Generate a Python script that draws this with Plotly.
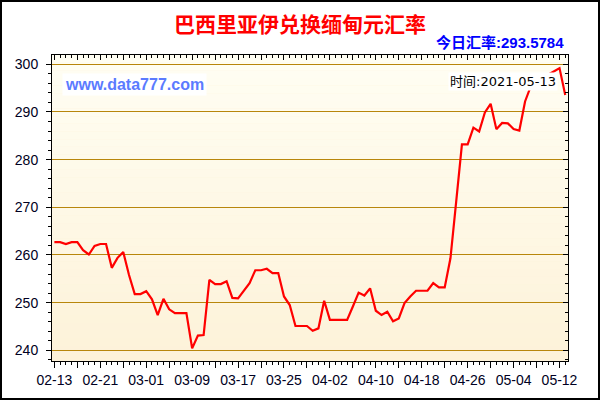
import plotly.graph_objects as go
import pandas as pd

# ---------------- data ----------------
DATES = pd.date_range("2021-02-13", "2021-05-13", freq="D").strftime("%Y-%m-%d").tolist()
RATES = [
    262.7, 262.7, 262.3, 262.7, 262.7, 261.0, 260.1, 261.9, 262.3, 262.3,
    257.3, 259.4, 260.6, 255.8, 251.8, 251.8, 252.4, 250.7, 247.4, 250.8,
    248.6, 247.8, 247.8, 247.8, 240.4, 243.1, 243.2, 254.8, 253.9, 253.9,
    254.5, 251.0, 250.9, 252.5, 254.1, 256.8, 256.8, 257.1, 256.2, 256.2,
    251.3, 249.5, 245.1, 245.1, 245.1, 244.1, 244.6, 250.4, 246.4, 246.4,
    246.4, 246.4, 249.2, 252.1, 251.5, 253.0, 248.3, 247.4, 248.1, 246.1,
    246.7, 249.9, 251.3, 252.5, 252.5, 252.5, 254.1, 253.2, 253.2, 259.3,
    271.2, 283.2, 283.2, 286.7, 285.9, 289.9, 291.7, 286.4, 287.7, 287.6,
    286.4, 286.1, 292.2, 295.4, 296.9, 297.3, 297.8, 298.5, 299.2, 293.5784,
]
TICK_VALS = [
    "2021-02-13", "2021-02-17", "2021-02-21", "2021-02-25", "2021-03-01", "2021-03-05",
    "2021-03-09", "2021-03-13", "2021-03-17", "2021-03-21", "2021-03-25", "2021-03-29",
    "2021-04-02", "2021-04-06", "2021-04-10", "2021-04-14", "2021-04-18", "2021-04-22",
    "2021-04-26", "2021-04-30", "2021-05-04", "2021-05-08", "2021-05-12",
]
TICK_TEXT = [
    "02-13", "", "02-21", "", "03-01", "", "03-09", "", "03-17", "", "03-25", "",
    "04-02", "", "04-10", "", "04-18", "", "04-26", "", "05-04", "", "05-12",
]
Y_TICKS = [240, 250, 260, 270, 280, 290, 300]

TITLE = "巴西里亚伊兑换缅甸元汇率"
TODAY_TEXT = "今日汇率:293.5784"
SITE_TEXT = "www.data777.com"
TIME_TEXT = "时间:2021-05-13"

# ---------------- layout helpers ----------------
W, H = 600, 400
L, R, T, B = 52, 32, 55, 39
PW, PH = W - L - R, H - T - B


def px(x):
    return (x - L) / PW


def py(y):
    return (H - B - y) / PH


X_RANGE = ["2021-02-12 14:00", "2021-05-13 11:30"]
Y_RANGE = [237.76, 301.95]
TICK_FONT = dict(family="Liberation Sans, Arial, sans-serif", size=14, color="#000022")

fig = go.Figure()
fig.add_trace(go.Scatter(
    x=DATES, y=RATES, mode="lines",
    line=dict(color="#FF0000", width=2.2),
    hoverinfo="skip", showlegend=False,
))
# invisible trace on the mirror axes so they get drawn
fig.add_trace(go.Scatter(
    x=DATES, y=RATES, xaxis="x2", yaxis="y2", mode="lines",
    line=dict(color="rgba(0,0,0,0)", width=0),
    hoverinfo="skip", showlegend=False,
))

# vertical gradient background of the plot area
shapes = []
N = 40
top = (255, 254, 243)
bot = (253, 242, 217)
for i in range(N):
    t = i / (N - 1)
    c = tuple(round(bot[k] + (top[k] - bot[k]) * t) for k in range(3))
    shapes.append(dict(
        type="rect", xref="paper", yref="paper",
        x0=0, x1=1, y0=i / N, y1=(i + 1) / N,
        fillcolor="rgb(%d,%d,%d)" % c, line=dict(width=0), layer="below",
    ))
# outer frame of the picture
shapes.append(dict(
    type="rect", xref="paper", yref="paper",
    x0=px(1), x1=px(599), y0=py(399), y1=py(1),
    line=dict(color="black", width=2), fillcolor="rgba(0,0,0,0)", layer="above",
))

annotations = [
    dict(text=TITLE, xref="paper", yref="paper", x=px(300), y=py(23),
         xanchor="center", yanchor="middle", showarrow=False,
         font=dict(family="Noto Sans CJK SC", size=21, color="#FF0000", weight="bold")),
    dict(text=TODAY_TEXT, xref="paper", yref="paper", x=px(566), y=py(43),
         xanchor="right", yanchor="middle", showarrow=False,
         font=dict(family="Liberation Sans, Noto Sans CJK SC", size=15, color="#0000FF", weight="bold")),
    dict(text=SITE_TEXT, xref="paper", yref="paper", x=px(62), y=py(84),
         xanchor="left", yanchor="middle", showarrow=False, bgcolor="white", borderpad=2,
         font=dict(family="Liberation Sans, Arial, sans-serif", size=16, color="#5B7BFF", weight="bold")),
    dict(text=TIME_TEXT, xref="paper", yref="paper", x=px(558), y=py(81.7),
         xanchor="right", yanchor="middle", showarrow=False, bgcolor="white", borderpad=1,
         font=dict(family="DejaVu Sans, Noto Sans CJK SC", size=13, color="#000000")),
]

fig.update_layout(
    width=W, height=H,
    margin=dict(l=L, r=R, t=T, b=B, pad=0),
    paper_bgcolor="white",
    plot_bgcolor="rgb(%d,%d,%d)" % bot,
    font=dict(family="Liberation Sans, Noto Sans CJK SC", color="#000022"),
    showlegend=False,
    shapes=shapes,
    annotations=annotations,
    xaxis=dict(
        type="date", range=X_RANGE,
        tickmode="array", tickvals=TICK_VALS, ticktext=TICK_TEXT,
        ticks="outside", ticklen=6, tickwidth=1, tickcolor="black",
        showline=True, linecolor="black", linewidth=1,
        showgrid=False, zeroline=False, tickfont=TICK_FONT,
        minor=dict(dtick=86400000, tick0="2021-02-13", ticks="outside", ticklen=3,
                   tickcolor="black", tickwidth=1, showgrid=False),
        fixedrange=True,
    ),
    xaxis2=dict(
        type="date", range=X_RANGE, overlaying="x", side="top", anchor="y",
        tickmode="array", tickvals=TICK_VALS, showticklabels=False,
        ticks="inside", ticklen=5, tickwidth=1, tickcolor="black",
        showline=True, linecolor="black", linewidth=1,
        showgrid=False, zeroline=False,
        minor=dict(dtick=86400000, tick0="2021-02-13", ticks="inside", ticklen=3,
                   tickcolor="black", tickwidth=1, showgrid=False),
        fixedrange=True,
    ),
    yaxis=dict(
        range=Y_RANGE, tickmode="array", tickvals=Y_TICKS,
        ticks="outside", ticklen=5, tickwidth=1, tickcolor="black",
        showline=True, linecolor="black", linewidth=1,
        showgrid=True, gridcolor="#B8860B", gridwidth=1,
        zeroline=False, tickfont=TICK_FONT, ticklabelstandoff=5,
        minor=dict(dtick=2, tick0=0, ticks="outside", ticklen=3,
                   tickcolor="black", tickwidth=1, showgrid=False),
        fixedrange=True,
    ),
    yaxis2=dict(
        range=Y_RANGE, overlaying="y", side="right", anchor="x",
        tickmode="array", tickvals=Y_TICKS, showticklabels=False,
        ticks="inside", ticklen=5, tickwidth=1, tickcolor="black",
        showline=True, linecolor="black", linewidth=1,
        showgrid=False, zeroline=False,
        minor=dict(dtick=2, tick0=0, ticks="inside", ticklen=3,
                   tickcolor="black", tickwidth=1, showgrid=False),
        fixedrange=True,
    ),
)

fig.write_html(
    "out.html",
    config=dict(displayModeBar=False),
    post_script="document.body.style.margin='0';document.body.style.overflow='hidden';",
)
